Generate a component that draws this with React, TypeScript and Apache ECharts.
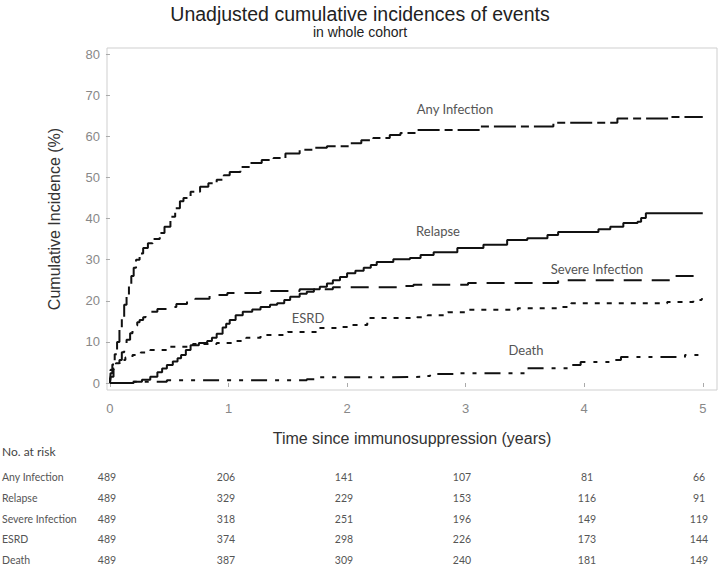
import React, { useEffect, useRef } from "react";
import * as echarts from "echarts";

const titleText = "Unadjusted cumulative incidences of events";
const subtitleText = "in whole cohort";
const yAxisName = "Cumulative Incidence (%)";
const xAxisName = "Time since immunosuppression (years)";

const xTicks = [0, 1, 2, 3, 4, 5];
const yTicks = [0, 10, 20, 30, 40, 50, 60, 70, 80];

const seriesNames = ["Any Infection", "Relapse", "Severe Infection", "ESRD", "Death"];

const anyInfection: number[][] = [
  [0, 0], [0.005, 2.4], [0.02, 4.5], [0.04, 7], [0.06, 10], [0.08, 13], [0.1, 16], [0.12, 19],
  [0.14, 21.5], [0.16, 24], [0.18, 26], [0.2, 28], [0.22, 30], [0.25, 31.5], [0.28, 32.8],
  [0.32, 34], [0.36, 35], [0.42, 36.5], [0.46, 38], [0.51, 40.4], [0.55, 42.5], [0.59, 44.2],
  [0.62, 45], [0.68, 46.5], [0.76, 47.7], [0.83, 48.6], [0.9, 49.4], [0.96, 50.5], [1.01, 51.3],
  [1.1, 52.5], [1.18, 53.5], [1.28, 54.2], [1.38, 54.7], [1.48, 55.8], [1.6, 56.7], [1.72, 57.2],
  [1.83, 57.6], [2.03, 58.3], [2.12, 59], [2.22, 59.6], [2.36, 60.3], [2.45, 60.8], [2.59, 61.5],
  [3.12, 62.4], [3.74, 63.3], [4.28, 64.3], [4.73, 64.7], [5.0, 64.7],
];
const relapse: number[][] = [
  [0, 0], [0.15, 0], [0.2, 0.3], [0.27, 0.8], [0.34, 1.5], [0.4, 2.6], [0.44, 3.5], [0.48, 4.4],
  [0.53, 5.2], [0.57, 6], [0.6, 6.8], [0.64, 8], [0.68, 9.2], [0.75, 9.7], [0.82, 10.2], [0.86, 11],
  [0.9, 12], [0.95, 13.5], [0.98, 14.4], [1.01, 15.3], [1.06, 16.5], [1.12, 17.3], [1.2, 17.9],
  [1.27, 18.5], [1.35, 19], [1.41, 19.4], [1.47, 20.2], [1.52, 21], [1.6, 21.7], [1.66, 22.2],
  [1.72, 22.8], [1.77, 23.4], [1.83, 24.2], [1.88, 25], [1.94, 25.8], [2.0, 26.7], [2.07, 27.3],
  [2.14, 28], [2.2, 28.7], [2.25, 29.4], [2.39, 30.1], [2.53, 30.4], [2.62, 31.1], [2.73, 31.8],
  [2.93, 32.8], [3.15, 33.6], [3.35, 34.8], [3.52, 35.2], [3.69, 36], [3.78, 36.7], [4.12, 37.4],
  [4.22, 38], [4.33, 38.9], [4.45, 39.2], [4.48, 40.1], [4.52, 41.3], [5.0, 41.3],
];
const severeInfection: number[][] = [
  [0, 0], [0.005, 1.5], [0.03, 3.5], [0.05, 4.5], [0.08, 5.6], [0.1, 7.5], [0.12, 9], [0.14, 10.5],
  [0.17, 12.1], [0.19, 13.2], [0.21, 14], [0.23, 14.8], [0.25, 15.3], [0.28, 16], [0.3, 16.5],
  [0.34, 17.3], [0.4, 18], [0.48, 18.5], [0.56, 19.2], [0.65, 19.7], [0.72, 20.5], [0.84, 21.4],
  [0.99, 21.9], [1.27, 22.4], [1.6, 22.8], [1.88, 23.3], [2.45, 23.6], [2.56, 23.9], [3.02, 24.3],
  [3.78, 25], [4.73, 26], [5.0, 26],
];
const esrd: number[][] = [
  [0, 0], [0.005, 3.2], [0.03, 4.2], [0.05, 4.8], [0.08, 5.6], [0.13, 6.2], [0.19, 6.8], [0.26, 7.4],
  [0.34, 8], [0.48, 8.8], [0.7, 9.5], [0.9, 9.7], [1.04, 10.2], [1.15, 11], [1.27, 11.7], [1.5, 12.4],
  [1.75, 13.4], [1.94, 13.6], [2.05, 14.1], [2.17, 15.8], [2.59, 16], [2.68, 16.5], [2.85, 17.2],
  [3.02, 17.8], [3.44, 18.2], [3.8, 18.5], [3.89, 19.4], [4.7, 19.7], [4.92, 20.2], [4.99, 20.4],
  [5.0, 20.4],
];
const death: number[][] = [
  [0, 0], [0.19, 0.3], [0.48, 0.7], [1.66, 0.9], [1.77, 1.4], [2.3, 1.5], [2.62, 1.7], [2.7, 2.2],
  [2.95, 2.4], [3.52, 3.6], [3.89, 4.4], [3.97, 5.1], [4.25, 5.6], [4.31, 6.3], [4.85, 6.8], [5.0, 6.8],
];

const riskTitle = "No. at risk";
const riskGroups = ["Any Infection", "Relapse", "Severe Infection", "ESRD", "Death"];
const riskAny = [489, 206, 141, 107, 81, 66];
const riskRelapse = [489, 329, 229, 153, 116, 91];
const riskSevere = [489, 318, 251, 196, 149, 119];
const riskEsrd = [489, 374, 298, 226, 173, 144];
const riskDeath = [489, 387, 309, 240, 181, 149];

export default function App() {
  const ref = useRef<HTMLDivElement>(null);
  useEffect(() => {
    if (!ref.current) return;
    const chart = echarts.init(ref.current, null, { renderer: "svg" });
    const seriesData = [anyInfection, relapse, severeInfection, esrd, death];
    const dashes: any[] = [[22, 5, 8, 5], "solid", [18, 10], [5, 7], [16, 8, 4, 8, 4, 8]];
    const riskRows = [riskAny, riskRelapse, riskSevere, riskEsrd, riskDeath];
    const colX = [107, 226, 344, 462, 587, 699];
    const rowY = [477, 498, 519, 539, 560];
    const tableFont = "Lato, 'Open Sans', sans-serif";
    const sans = "'Liberation Sans', Arial, sans-serif";

    const graphics: any[] = [];
    graphics.push({
      type: "text", left: 2, top: 445,
      style: { text: riskTitle, fontSize: 12, fontFamily: tableFont, fill: "#444" },
    });
    riskGroups.forEach((g, i) => {
      graphics.push({
        type: "text", x: 2, y: rowY[i],
        style: { text: g, fontSize: 10.5, fontFamily: tableFont, fill: "#555", verticalAlign: "middle" },
      });
      riskRows[i].forEach((v, j) => {
        graphics.push({
          type: "text", x: colX[j], y: rowY[i],
          style: { text: String(v), fontSize: 10.5, fontFamily: tableFont, fill: "#555", align: "center", verticalAlign: "middle" },
        });
      });
    });
    const curveLabels: [string, number, number][] = [
      ["Any Infection", 455, 109],
      ["Relapse", 438, 231],
      ["Severe Infection", 597, 269],
      ["ESRD", 308, 318],
      ["Death", 526, 350],
    ];
    curveLabels.forEach(([t, x, y]) => {
      graphics.push({
        type: "text", x, y, z: 10,
        style: { text: t, fontSize: 13, fontFamily: tableFont, fill: "#555", align: "center", verticalAlign: "middle" },
      });
    });

    chart.setOption({
      animation: false,
      backgroundColor: "#fff",
      title: {
        text: titleText,
        subtext: subtitleText,
        left: "center",
        top: -1,
        itemGap: 1,
        textStyle: { fontSize: 19.5, fontWeight: "normal", color: "#222", fontFamily: sans },
        subtextStyle: { fontSize: 14, color: "#222", fontFamily: sans },
      },
      grid: {
        left: 107, right: 3, top: 48, bottom: 175,
        show: true, borderColor: "#cfcfcf", borderWidth: 1, backgroundColor: "transparent",
      },
      xAxis: {
        type: "value",
        min: -0.025, max: 5.12,
        name: xAxisName,
        nameLocation: "middle",
        nameGap: 40,
        nameTextStyle: { fontSize: 16, color: "#333", fontFamily: sans },
        axisLine: { show: false },
        splitLine: { show: false },
        axisTick: { show: true, length: 4, lineStyle: { color: "#aaa" }, customValues: xTicks },
        axisLabel: { customValues: xTicks, fontSize: 13, color: "#888", margin: 12, fontFamily: sans },
      },
      yAxis: {
        type: "value",
        min: -1.7, max: 81.46,
        name: yAxisName,
        nameLocation: "middle",
        nameGap: 45,
        nameRotate: 90,
        nameTextStyle: { fontSize: 16, color: "#333", fontFamily: sans },
        axisLine: { show: false },
        splitLine: { show: false },
        axisTick: { show: true, length: 4, lineStyle: { color: "#aaa" }, customValues: yTicks },
        axisLabel: { customValues: yTicks, fontSize: 13, color: "#888", margin: 7, fontFamily: sans },
      },
      series: seriesData.map((d, i) => ({
        name: seriesNames[i],
        type: "line",
        step: "end",
        data: d,
        showSymbol: false,
        symbol: "none",
        lineStyle: { color: "#111", width: 2, type: dashes[i] },
        z: 5 - i,
      })),
      graphic: graphics,
    });
    return () => chart.dispose();
  }, []);
  return <div ref={ref} style={{ position: "fixed", left: 0, top: 0, width: 720, height: 565 }} />;
}
